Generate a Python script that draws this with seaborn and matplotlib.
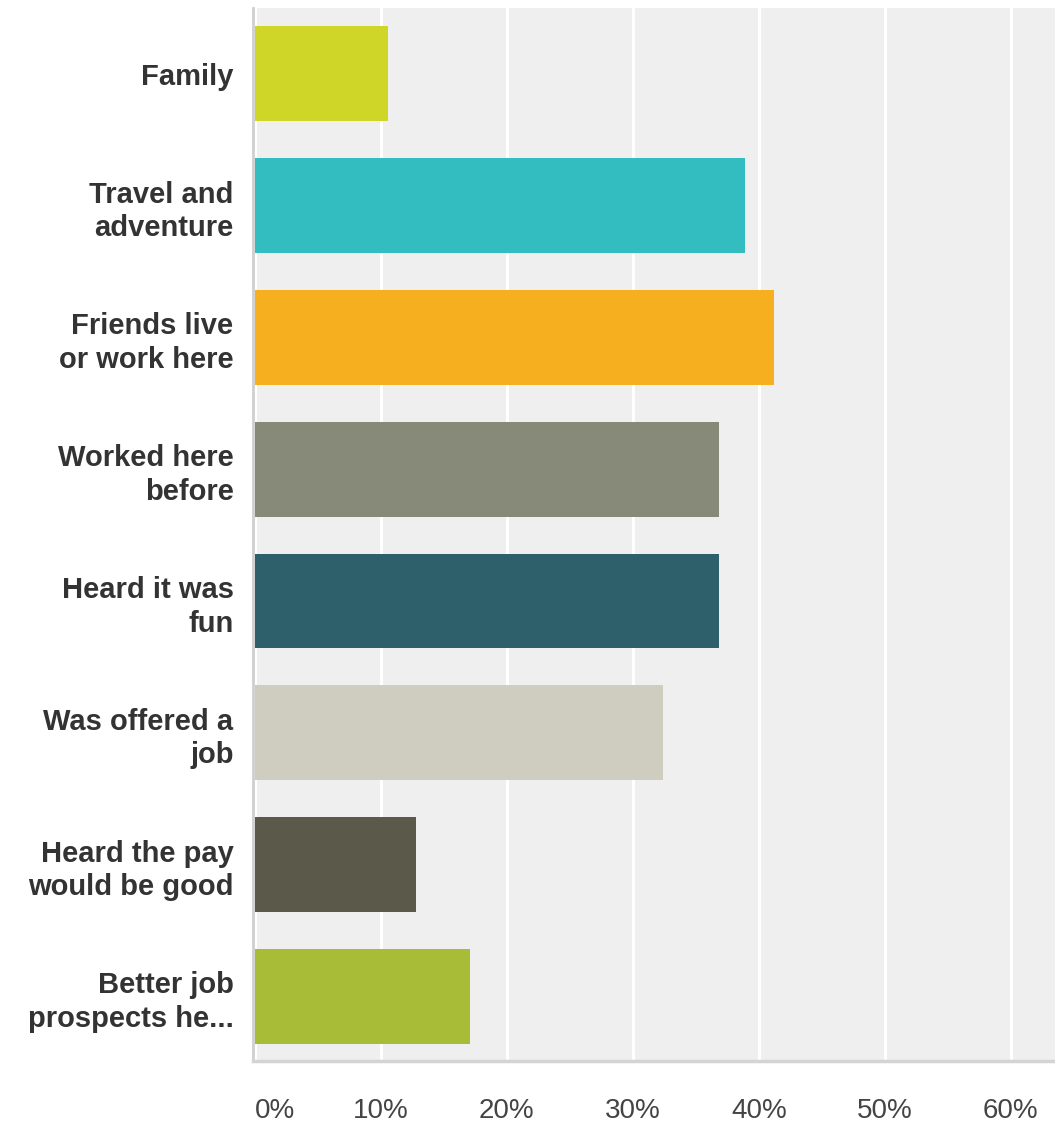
import matplotlib
matplotlib.use("Agg")
import matplotlib.pyplot as plt
import seaborn as sns
import pandas as pd

# survey answers, share of respondents (%)
categories = [
    "Family",
    "Travel and\nadventure",
    "Friends live\nor work here",
    "Worked here\nbefore",
    "Heard it was\nfun",
    "Was offered a\njob",
    "Heard the pay\nwould be good",
    "Better job\nprospects he...",
]
values = [10.6, 38.9, 41.2, 36.8, 36.8, 32.4, 12.8, 17.1]
bar_colors = ["#cfd628", "#33bdc0", "#f6af1e", "#888a79",
              "#2e606b", "#cfcdbf", "#5b5a4a", "#a8bc38"]
tick_values = [0, 10, 20, 30, 40, 50, 60]
tick_labels = ["0%", "10%", "20%", "30%", "40%", "50%", "60%"]

df = pd.DataFrame({"answer": categories, "pct": values})

sns.set_style("white")
plt.rcParams['font.family'] = ['Liberation Sans', 'DejaVu Sans']

fig = plt.figure(figsize=(10.55, 11.25), dpi=100)
ax = fig.add_axes([0.2398, 0.0569, 0.7602, 0.9360])
ax.set_facecolor("#efefef")

sns.barplot(data=df, y="answer", x="pct", hue="answer", palette=bar_colors,
            legend=False, width=0.72, orient="h", ax=ax, zorder=3,
            edgecolor="none", saturation=1)

ax.set_xlim(-0.15, 63.5)
ax.set_ylim(7.49, -0.5)
ax.set_xticks(tick_values)
ax.set_xticklabels(tick_labels)
ax.xaxis.grid(True, color="white", linewidth=2.2, zorder=1)
ax.set_axisbelow(True)
ax.set_xlabel("")
ax.set_ylabel("")

for s in ["top", "right"]:
    ax.spines[s].set_visible(False)
ax.spines["left"].set_color("#cfcfcf")
ax.spines["left"].set_linewidth(2)
ax.spines["bottom"].set_color("#d4d4d4")
ax.spines["bottom"].set_linewidth(2.5)

ax.tick_params(axis="x", length=0, pad=27, labelsize=20, labelcolor="#444444")
ax.tick_params(axis="y", length=0, pad=14, labelsize=21, labelcolor="#333333")
for t in ax.get_yticklabels():
    t.set_fontweight("bold")
    t.set_linespacing(1.25)
ax.get_xticklabels()[0].set_horizontalalignment("left")

fig.savefig("out.png", dpi=100)
